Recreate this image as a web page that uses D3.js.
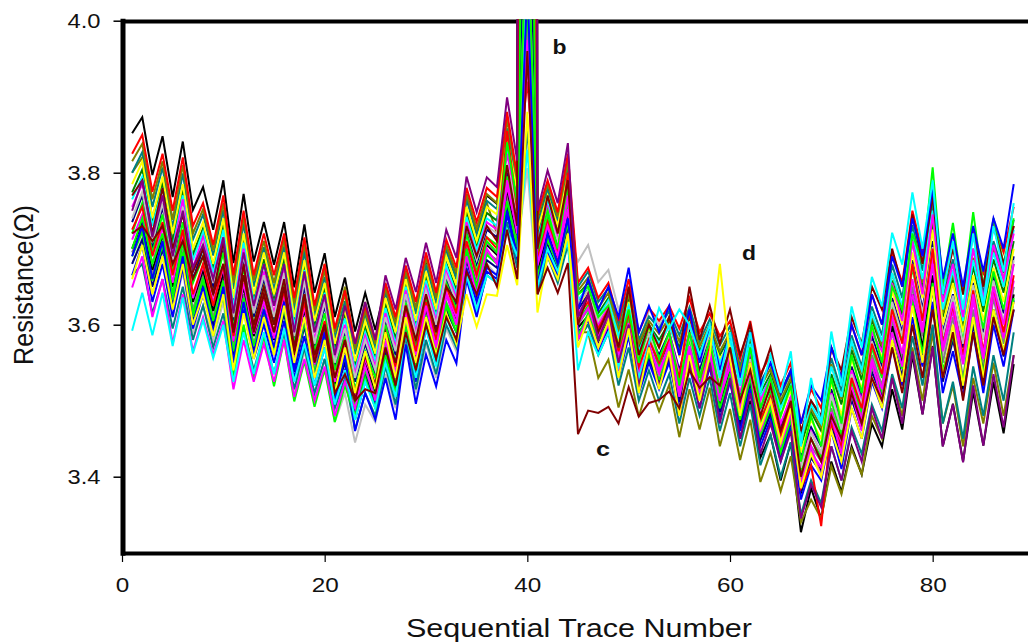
<!DOCTYPE html>
<html>
<head>
<meta charset="utf-8">
<script src="https://cdn.jsdelivr.net/npm/d3@7"></script>
<style>
  body { margin: 0; background: #fff; }
  svg { display: block; }
  text { font-family: "Liberation Sans", Arial, sans-serif; fill: #111; }
</style>
</head>
<body>
<svg id="chart" width="1028" height="643"></svg>
<script>
// resistance in milliohm, trace numbers 1..88
const black = [
  3852,3873,3797,3848,3768,3841,3751,3781,3725,3790,3681,3772,3683,3735,3679,3735,3649,3732,3642,3694,3610,3662,
  3591,3642,3593,3650,3603,3671,3621,3686,3635,3703,3667,3772,3725,3770,3759,3858,3790,4300,3738,3782,3742,3812,
  3630,3650,3610,3625,3570,3615,3545,3585,3545,3580,3500,3560,3500,3550,3475,3530,3450,3500,3425,3455,3395,3445,
  3327,3385,3345,3420,3380,3440,3403,3470,3440,3515,3462,3560,3482,3572,3440,3496,3420,3512,3441,3525,3457,3548]
const cyan = [
  3592,3642,3586,3642,3572,3636,3562,3606,3556,3600,3525,3590,3535,3590,3535,3595,3525,3575,3520,3570,3495,3540,
  3475,3525,3490,3550,3505,3590,3530,3595,3545,3610,3575,3665,3620,3665,3655,3725,3690,3830,3650,3700,3670,3710,
  3540,3590,3560,3590,3545,3590,3530,3575,3622,3595,3620,3600,3560,3600,3530,3590,3520,3590,3510,3560,3510,3565,
  3440,3530,3470,3591,3520,3624,3570,3663,3624,3721,3679,3774,3700,3790,3640,3710,3620,3720,3625,3730,3670,3760]
const purple = [
  3750,3790,3715,3770,3690,3750,3675,3705,3660,3715,3615,3695,3625,3680,3625,3680,3590,3670,3590,3640,3560,3625,
  3575,3630,3580,3665,3620,3688,3643,3708,3655,3725,3688,3795,3748,3794,3781,3899,3816,12000,3750,3803,3760,3839,
  3610,3640,3580,3615,3550,3600,3520,3570,3520,3560,3480,3550,3490,3550,3470,3530,3450,3510,3430,3470,3420,3460,
  3345,3390,3360,3440,3395,3460,3420,3490,3450,3530,3470,3565,3482,3571,3440,3495,3419,3520,3441,3535,3465,3560]
const blue = [
  3690,3730,3660,3710,3620,3690,3600,3650,3590,3650,3550,3630,3560,3620,3570,3630,3540,3610,3530,3590,3500,3560,
  3460,3510,3475,3530,3475,3574,3496,3561,3519,3580,3549,3660,3610,3670,3660,3750,3690,4050,3650,3720,3680,3740,
  3620,3660,3620,3650,3610,3675,3590,3625,3590,3625,3560,3620,3550,3600,3540,3590,3530,3590,3520,3550,3510,3540,
  3470,3520,3500,3570,3530,3600,3560,3640,3600,3690,3650,3740,3690,3780,3660,3720,3650,3730,3670,3740,3700,3785]
const magenta = [
  3649,3690,3610,3660,3575,3640,3565,3610,3560,3605,3515,3580,3525,3575,3525,3580,3505,3555,3500,3545,3480,3525,
  3490,3545,3500,3580,3530,3610,3550,3625,3570,3640,3600,3690,3640,3700,3680,3790,3720,3950,3680,3730,3690,3770,
  3580,3610,3570,3600,3540,3600,3530,3575,3535,3575,3505,3565,3510,3565,3500,3560,3490,3550,3460,3500,3445,3485,
  3385,3440,3400,3480,3430,3510,3460,3550,3500,3590,3545,3640,3590,3680,3570,3630,3550,3640,3560,3650,3600,3680]
const green = [
  3700,3740,3680,3720,3640,3710,3610,3660,3585,3640,3530,3600,3530,3585,3519,3580,3499,3552,3492,3541,3472,3520,
  3480,3530,3490,3560,3510,3600,3540,3610,3555,3625,3590,3700,3650,3710,3695,3840,3760,4150,3700,3750,3700,3780,
  3640,3650,3610,3625,3570,3620,3550,3600,3555,3590,3520,3590,3530,3580,3510,3570,3500,3570,3490,3530,3480,3520,
  3420,3480,3440,3530,3470,3560,3510,3600,3550,3650,3620,3720,3680,3807,3650,3734,3640,3748,3650,3740,3680,3740]
const olive = [
  3800,3820,3740,3790,3710,3780,3690,3720,3670,3730,3625,3710,3630,3700,3640,3715,3620,3700,3610,3680,3590,3650,
  3570,3630,3570,3650,3600,3670,3620,3690,3640,3700,3660,3750,3700,3760,3720,3800,3760,4500,3720,3770,3730,3780,
  3590,3590,3530,3554,3491,3541,3479,3524,3486,3521,3452,3515,3462,3517,3440,3489,3422,3475,3393,3432,3381,3427,
  3340,3370,3345,3414,3377,3436,3403,3480,3450,3530,3480,3570,3500,3590,3470,3520,3440,3530,3470,3550,3480,3560]
const silver = [
  3680,3715,3640,3690,3610,3670,3590,3625,3580,3630,3530,3600,3540,3590,3535,3590,3510,3565,3505,3555,3472,3510,
  3445,3495,3472,3535,3490,3580,3510,3575,3530,3595,3565,3670,3620,3680,3665,3760,3700,3806,3640,3700,3660,3720,
  3683,3705,3656,3672,3620,3650,3570,3620,3600,3620,3560,3600,3540,3590,3530,3580,3520,3580,3490,3530,3470,3500,
  3400,3450,3420,3500,3450,3530,3490,3570,3510,3600,3555,3650,3580,3660,3560,3620,3560,3630,3580,3640,3590,3650]
const maroon = [
  3770,3790,3720,3780,3700,3745,3670,3700,3640,3710,3590,3680,3590,3640,3590,3650,3560,3640,3550,3600,3530,3580,
  3500,3560,3520,3590,3550,3625,3580,3640,3590,3650,3630,3730,3690,3730,3710,3810,3730,25000,3700,3770,3720,3790,
  3600,3640,3590,3620,3570,3650,3560,3600,3570,3610,3560,3650,3580,3625,3575,3620,3560,3600,3530,3570,3510,3540,
  3460,3500,3480,3570,3540,3610,3575,3650,3620,3700,3650,3745,3680,3770,3640,3700,3640,3720,3650,3730,3680,3730]
// trace d, the yellow spike at 59
const yellowD = [
  3660,3705,3640,3690,3620,3680,3600,3640,3585,3640,3540,3615,3555,3610,3560,3625,3550,3610,3530,3580,3510,3570,
  3510,3565,3515,3590,3530,3610,3550,3610,3560,3615,3575,3640,3597,3640,3638,3705,3652,3880,3616,3690,3660,3720,
  3570,3610,3570,3605,3530,3595,3510,3570,3515,3565,3480,3560,3500,3560,3680,3555,3480,3550,3465,3500,3445,3490,
  3385,3430,3400,3460,3420,3490,3450,3530,3490,3580,3525,3625,3550,3650,3530,3600,3520,3610,3530,3620,3565,3630]
// trace c, the one that drops at 45
const maroonC = [
  3720,3730,3710,3730,3680,3710,3660,3690,3640,3680,3590,3665,3600,3650,3600,3660,3570,3640,3560,3600,3510,3535,
  3500,3515,3510,3570,3520,3590,3540,3600,3555,3610,3580,3670,3640,3680,3650,3725,3660,3960,3640,3675,3642,3681,
  3456,3487,3484,3492,3470,3518,3479,3497,3501,3512,3490,3540,3517,3531,3520,3570,3500,3540,3480,3520,3460,3500,
  3400,3450,3420,3480,3450,3510,3470,3530,3500,3570,3510,3600,3530,3620,3530,3590,3500,3590,3520,3610,3560,3620]
const teal = [
  3800,3827,3755,3807,3728,3799,3712,3745,3691,3751,3647,3733,3650,3702,3647,3703,3619,3696,3612,3663,3582,3631,
  3561,3612,3568,3643,3596,3665,3614,3679,3628,3696,3660,3765,3718,3763,3752,3858,3783,15000,3731,3777,3736,3807,
  3650,3670,3630,3648,3600,3648,3580,3611,3595,3618,3586,3623,3578,3607,3573,3598,3545,3593,3524,3549,3507,3537,
  3456,3500,3477,3556,3512,3586,3545,3624,3586,3679,3635,3731,3671,3760,3634,3686,3620,3700,3642,3710,3668,3738]
const darkGreen = [
  3774,3804,3734,3786,3708,3779,3693,3727,3673,3732,3630,3713,3634,3686,3631,3687,3604,3677,3597,3648,3568,3615,
  3546,3597,3556,3628,3581,3654,3599,3664,3614,3681,3646,3748,3703,3747,3737,3837,3767,5800,3717,3764,3725,3792,
  3640,3655,3615,3635,3590,3635,3570,3600,3580,3603,3570,3610,3565,3595,3560,3585,3530,3580,3510,3535,3495,3525,
  3440,3485,3460,3535,3495,3567,3527,3607,3568,3658,3613,3710,3648,3736,3610,3662,3595,3677,3617,3686,3642,3710]
const navy = [
  3735,3770,3700,3755,3680,3750,3660,3700,3650,3700,3605,3685,3610,3660,3605,3660,3580,3650,3570,3625,3545,3590,
  3525,3575,3535,3605,3560,3635,3580,3640,3595,3660,3625,3725,3680,3725,3715,3800,3740,9000,3695,3745,3705,3765,
  3620,3640,3600,3625,3575,3625,3555,3590,3560,3590,3540,3590,3540,3580,3530,3565,3505,3560,3490,3515,3465,3505,
  3425,3465,3440,3515,3470,3545,3505,3585,3545,3635,3590,3685,3620,3710,3590,3640,3570,3655,3590,3665,3615,3690]
const gray = [
  3695,3725,3665,3710,3640,3700,3620,3665,3610,3660,3570,3640,3575,3620,3570,3625,3545,3610,3540,3590,3515,3560,
  3495,3545,3505,3575,3525,3610,3550,3615,3565,3630,3600,3695,3650,3695,3685,3770,3710,4250,3665,3715,3680,3740,
  3600,3620,3585,3610,3555,3605,3530,3565,3535,3565,3515,3570,3520,3565,3500,3545,3480,3535,3460,3495,3440,3480,
  3395,3440,3420,3490,3445,3515,3480,3560,3520,3605,3555,3650,3585,3680,3550,3610,3530,3620,3545,3635,3575,3650]
const red = [
  3725,3755,3690,3735,3665,3725,3640,3680,3625,3680,3585,3665,3595,3640,3590,3645,3565,3630,3555,3605,3530,3580,
  3510,3560,3520,3590,3545,3625,3565,3630,3580,3650,3615,3710,3665,3715,3700,3855,3750,7000,3685,3735,3695,3800,
  3610,3630,3595,3620,3565,3615,3545,3580,3550,3580,3530,3620,3530,3570,3515,3555,3495,3550,3475,3505,3455,3495,
  3385,3415,3335,3470,3440,3530,3490,3575,3535,3620,3575,3680,3605,3700,3575,3625,3560,3645,3565,3650,3590,3665]
const yellow2 = [
  3785,3815,3740,3795,3720,3785,3700,3735,3680,3740,3635,3720,3640,3695,3640,3695,3610,3685,3605,3655,3575,3620,
  3552,3605,3562,3635,3590,3660,3605,3670,3620,3690,3652,3755,3710,3755,3745,3845,3775,4040,3725,3770,3730,3797,
  3625,3645,3605,3630,3580,3630,3560,3595,3570,3600,3560,3600,3555,3590,3555,3575,3525,3570,3500,3525,3480,3515,
  3432,3475,3450,3525,3480,3555,3515,3595,3555,3645,3600,3695,3635,3725,3600,3655,3590,3665,3605,3675,3630,3700]
const blue2 = [
  3665,3705,3630,3680,3610,3675,3595,3640,3590,3640,3550,3620,3555,3600,3550,3605,3530,3585,3520,3570,3500,3540,
  3475,3525,3495,3555,3505,3595,3525,3595,3550,3610,3580,3675,3630,3675,3665,3745,3685,4100,3650,3695,3665,3715,
  3590,3605,3565,3600,3530,3585,3510,3550,3515,3550,3490,3545,3490,3545,3475,3525,3460,3515,3440,3475,3420,3465,
  3370,3415,3395,3460,3410,3490,3450,3525,3490,3570,3520,3610,3545,3630,3510,3565,3505,3590,3510,3600,3545,3620]
const magenta2 = [
  3755,3785,3720,3770,3695,3765,3675,3715,3660,3715,3615,3700,3620,3670,3615,3675,3590,3665,3580,3635,3555,3600,
  3535,3585,3545,3615,3570,3645,3590,3650,3605,3670,3635,3735,3690,3735,3725,3825,3755,4000,3705,3755,3715,3775,
  3615,3635,3600,3625,3560,3615,3540,3585,3550,3590,3535,3590,3525,3580,3520,3560,3510,3565,3500,3530,3470,3505,
  3415,3460,3430,3510,3465,3540,3500,3590,3565,3655,3605,3710,3640,3745,3630,3680,3610,3700,3635,3705,3660,3720]
const teal2 = [
  3665,3680,3615,3660,3595,3650,3580,3625,3570,3615,3530,3595,3540,3585,3535,3590,3515,3570,3510,3555,3490,3530,
  3462,3510,3480,3545,3495,3585,3515,3580,3535,3600,3570,3665,3615,3665,3655,3735,3675,3860,3640,3690,3655,3705,
  3580,3600,3560,3590,3520,3570,3500,3540,3500,3535,3470,3530,3480,3530,3460,3510,3440,3495,3415,3455,3400,3445,
  3350,3395,3365,3440,3395,3465,3430,3495,3460,3535,3490,3585,3520,3600,3470,3525,3450,3545,3480,3560,3500,3590]
const red2 = [
  3825,3850,3775,3825,3750,3820,3730,3760,3705,3770,3665,3750,3665,3720,3665,3720,3635,3715,3625,3680,3595,3645,
  3575,3625,3580,3655,3610,3678,3630,3695,3642,3712,3675,3780,3735,3780,3768,3880,3795,3920,3745,3790,3748,3825,
  3655,3675,3635,3655,3605,3660,3590,3622,3605,3625,3595,3635,3590,3615,3585,3605,3555,3605,3535,3560,3520,3550,
  3470,3515,3490,3570,3530,3600,3560,3640,3600,3695,3655,3750,3695,3780,3655,3710,3640,3725,3665,3730,3695,3755]
const green2 = [
  3720,3760,3695,3745,3670,3735,3655,3690,3640,3695,3595,3675,3600,3650,3600,3655,3575,3640,3565,3615,3540,3585,
  3515,3565,3530,3600,3550,3630,3570,3635,3585,3655,3620,3720,3670,3715,3705,3795,3735,4020,3690,3740,3700,3760,
  3605,3625,3590,3615,3570,3610,3550,3585,3545,3585,3525,3580,3525,3575,3510,3550,3490,3545,3470,3510,3450,3490,
  3405,3450,3425,3500,3455,3525,3485,3570,3530,3625,3580,3675,3610,3695,3580,3635,3580,3650,3595,3670,3620,3680]
const cyan2 = [
  3765,3795,3730,3780,3700,3770,3685,3722,3668,3725,3622,3708,3628,3680,3625,3680,3598,3672,3590,3642,3562,3608,
  3540,3590,3552,3622,3575,3650,3595,3658,3610,3678,3640,3742,3698,3740,3730,3832,3762,4070,3712,3760,3720,3785,
  3632,3650,3610,3632,3585,3625,3565,3598,3575,3598,3565,3600,3560,3590,3550,3580,3520,3575,3505,3530,3490,3520,
  3450,3495,3470,3545,3505,3578,3540,3615,3578,3668,3625,3722,3660,3750,3620,3672,3605,3685,3625,3695,3650,3725]
const silver2 = [
  3740,3775,3708,3760,3685,3755,3668,3708,3655,3708,3610,3692,3615,3665,3610,3668,3585,3658,3575,3630,3550,3595,
  3530,3580,3540,3610,3565,3640,3585,3645,3600,3665,3630,3730,3685,3730,3720,3812,3748,4150,3700,3750,3710,3770,
  3628,3645,3605,3628,3568,3620,3548,3588,3555,3585,3532,3585,3532,3578,3525,3558,3498,3555,3482,3520,3458,3500,
  3412,3458,3432,3508,3462,3535,3495,3578,3538,3630,3585,3680,3615,3702,3585,3638,3575,3652,3580,3658,3605,3685]
const black2 = [
  3700,3735,3672,3718,3650,3710,3630,3672,3618,3668,3578,3650,3585,3630,3580,3635,3555,3620,3548,3598,3522,3568,
  3502,3552,3512,3582,3535,3618,3558,3622,3572,3640,3608,3702,3658,3705,3692,3778,3718,4200,3672,3722,3688,3748,
  3596,3612,3578,3605,3548,3598,3522,3558,3525,3558,3505,3562,3512,3558,3492,3538,3470,3525,3450,3485,3430,3470,
  3378,3428,3408,3478,3435,3505,3468,3550,3510,3598,3548,3640,3570,3665,3535,3590,3515,3605,3535,3620,3560,3640]
const navy2 = [
  3680,3712,3650,3700,3625,3688,3608,3652,3600,3650,3560,3630,3565,3610,3560,3615,3538,3598,3530,3580,3508,3550,
  3485,3535,3498,3565,3515,3600,3535,3605,3558,3620,3590,3685,3638,3685,3675,3755,3695,4350,3658,3705,3672,3730,
  3592,3600,3570,3595,3540,3590,3515,3555,3520,3555,3498,3552,3500,3552,3485,3530,3465,3525,3448,3482,3428,3470,
  3380,3425,3405,3470,3422,3502,3462,3538,3505,3580,3532,3628,3560,3648,3525,3580,3520,3600,3525,3612,3558,3632]
const magenta3 = [
  3712,3745,3680,3728,3655,3718,3635,3678,3630,3675,3578,3655,3588,3630,3582,3640,3558,3625,3548,3600,3525,3572,
  3505,3555,3518,3588,3538,3618,3560,3625,3575,3642,3610,3708,3660,3708,3695,3782,3725,3975,3678,3728,3690,3752,
  3602,3622,3585,3612,3552,3602,3535,3572,3540,3572,3512,3572,3515,3562,3505,3545,3482,3540,3462,3500,3442,3482,
  3392,3432,3412,3485,3440,3518,3475,3555,3515,3612,3562,3660,3595,3690,3565,3618,3548,3632,3555,3642,3582,3658]
const olive2 = [
  3815,3838,3765,3815,3738,3810,3720,3752,3698,3760,3655,3742,3658,3710,3655,3712,3628,3708,3618,3672,3590,3640,
  3568,3618,3575,3648,3602,3670,3622,3688,3635,3705,3668,3772,3726,3772,3760,3870,3790,5000,3740,3785,3742,3815,
  3645,3662,3622,3642,3592,3640,3575,3605,3588,3610,3578,3615,3572,3600,3565,3590,3540,3585,3518,3542,3500,3530,
  3448,3490,3465,3548,3502,3575,3535,3612,3572,3668,3620,3718,3655,3742,3615,3668,3610,3688,3630,3700,3660,3730]
const green3 = [
  3690,3722,3658,3705,3632,3695,3615,3660,3605,3658,3565,3635,3572,3618,3565,3622,3545,3602,3538,3585,3515,3558,
  3492,3540,3505,3572,3522,3605,3545,3612,3565,3628,3598,3692,3645,3692,3680,3762,3702,4700,3662,3712,3678,3735,
  3585,3615,3580,3602,3545,3595,3525,3560,3528,3562,3508,3565,3505,3555,3490,3535,3475,3530,3455,3490,3432,3475,
  3385,3435,3402,3482,3432,3508,3470,3545,3512,3590,3542,3632,3562,3655,3540,3585,3525,3610,3535,3618,3565,3635]

const traces = [black, olive, silver, teal, navy, darkGreen, olive2, gray, black2, yellow2, navy2, blue2, cyan2, magenta2, teal2, red2, green2, silver2, green3, magenta3, red, green, magenta, maroon, blue, cyan, purple, yellowD, maroonC]
const traceColors = ["#000000", "#808000", "#c0c0c0", "#008080", "#000080", "#008000", "#808000", "#808080", "#000000", "#ffff00", "#000080", "#0000ff", "#00ffff", "#ff00ff", "#008080", "#ff0000", "#00ff00", "#c0c0c0", "#00ff00", "#ff00ff", "#ff0000", "#00ff00", "#ff00ff", "#800000", "#0000ff", "#00ffff", "#800080", "#ffff00", "#800000"]

const xTicks = [0, 20, 40, 60, 80]
const yTicks = [3400, 3600, 3800, 4000]

const svg = d3.select("#chart")

const x = d3.scaleLinear().domain([0, 90]).range([122, 1034])
const y = d3.scaleLinear().domain([3300, 4000]).range([552.7, 20.7])

// left axis
const yAxis = svg.append("g")
  .attr("transform", "translate(122.5,0)")
  .call(d3.axisLeft(y).tickValues(yTicks).tickSizeInner(9).tickSizeOuter(0).tickPadding(13).tickFormat(d => (d / 1000).toFixed(1)))
yAxis.select(".domain").attr("stroke-width", 5).attr("stroke", "#000").attr("stroke-linecap", "square")
yAxis.selectAll(".tick line").attr("stroke-width", 1.5)
yAxis.selectAll(".tick text").attr("font-size", 21)
  .attr("textLength", 33).attr("lengthAdjust", "spacingAndGlyphs")

// bottom axis
const xAxis = svg.append("g")
  .attr("transform", "translate(0,553)")
  .call(d3.axisBottom(x).tickValues(xTicks).tickSizeInner(9).tickSizeOuter(0).tickPadding(15).tickFormat(d3.format("d")))
xAxis.select(".domain").attr("stroke-width", 4).attr("stroke", "#000")
xAxis.selectAll(".tick line").attr("stroke-width", 1.2)
xAxis.selectAll(".tick text").attr("font-size", 21)
  .attr("textLength", d => String(d).length * 13.5).attr("lengthAdjust", "spacingAndGlyphs")

// top frame line
const topAxis = svg.append("g")
  .attr("transform", "translate(0,21)")
  .call(d3.axisTop(x).tickValues([]).tickSizeOuter(0))
topAxis.select(".domain").attr("stroke-width", 4).attr("stroke", "#000")

svg.append("clipPath").attr("id", "plot-clip")
  .append("rect").attr("x", 122).attr("y", 19.5).attr("width", 906).attr("height", 534)

const lineGen = d3.line()
  .x((d, i) => x(i + 1))
  .y(d => y(d))

svg.append("g")
  .attr("clip-path", "url(#plot-clip)")
  .selectAll("path")
  .data(traces)
  .enter().append("path")
    .attr("fill", "none")
    .attr("stroke", (d, i) => traceColors[i])
    .attr("stroke-width", 2)
    .attr("d", lineGen)

// annotations
const labelB = svg.append("text").attr("x", 552.5).attr("y", 54).text("b")
const labelC = svg.append("text").attr("x", 596).attr("y", 456).text("c")
const labelD = svg.append("text").attr("x", 742).attr("y", 260).text("d")
;[labelB, labelC, labelD].forEach(t => t
  .attr("font-size", 21).attr("font-weight", "bold")
  .attr("textLength", 14).attr("lengthAdjust", "spacingAndGlyphs"))

svg.append("text")
  .attr("x", 406).attr("y", 637)
  .attr("font-size", 25)
  .attr("textLength", 346).attr("lengthAdjust", "spacingAndGlyphs")
  .text("Sequential Trace Number")

svg.append("text")
  .attr("transform", "translate(33,365) rotate(-90)")
  .attr("font-size", 27)
  .attr("textLength", 160).attr("lengthAdjust", "spacingAndGlyphs")
  .text("Resistance(\u03A9)")
</script>
</body>
</html>
